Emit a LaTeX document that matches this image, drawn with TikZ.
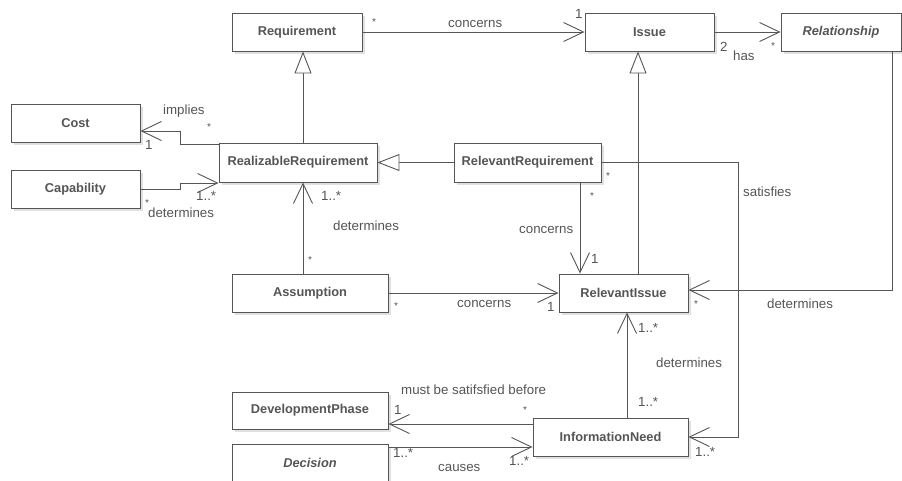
\documentclass[tikz,border=0pt]{standalone}
\usepackage{fontspec}
\setmainfont{Liberation Sans}
\usetikzlibrary{arrows.meta,shadows}
\definecolor{ln}{HTML}{555555}
\definecolor{tx}{HTML}{555555}
\begin{document}
\begin{tikzpicture}[x=1pt,y=-1pt,
  cls/.style={draw=ln, line width=0.9pt, fill=white, minimum height=38pt, inner sep=0pt,
    font=\fontsize{12.8}{14}\selectfont\bfseries, text=tx,
    drop shadow={shadow xshift=2.5pt, shadow yshift=-2.5pt, fill=black!12, opacity=1}},
  abs/.style={cls, font=\fontsize{12.8}{14}\selectfont\bfseries\itshape},
  lbl/.style={anchor=base west, inner sep=0pt, text=tx, font=\fontsize{13.3}{15}\selectfont},
  star/.style={lbl, font=\fontsize{10}{12}\selectfont},
  assoc/.style={draw=ln, line width=0.9pt, -{Straight Barb[length=20pt,width=19pt]}},
  gen/.style={draw=ln, line width=0.9pt, -{Triangle[open,length=22pt,width=17pt,fill=white]}}
]
\useasboundingbox (0,0) rectangle (902,480);

% classes
\node[cls, minimum width=130pt] (req) at (297,32) {Requirement};
\node[cls, minimum width=129pt] (iss) at (649.5,32) {Issue};
\node[abs, minimum width=120pt] (rel) at (841,32) {Relationship};
\node[cls, minimum width=129pt] (cost) at (75.5,123) {Cost};
\node[cls, minimum width=129pt] (cap) at (75.5,189) {Capability};
\node[cls, minimum width=158pt, minimum height=39pt] (rr) at (298,162.5) {RealizableRequirement};
\node[cls, minimum width=147pt, minimum height=39pt] (relreq) at (527.5,162.5) {RelevantRequirement};
\node[cls, minimum width=156pt] (as) at (310,293) {Assumption};
\node[cls, minimum width=129pt] (ri) at (623.5,293) {RelevantIssue};
\node[cls, minimum width=156pt, minimum height=37pt] (dp) at (310,410.5) {DevelopmentPhase};
\node[abs, minimum width=156pt] (dec) at (310,463) {Decision};
\node[cls, minimum width=155pt] (in) at (610.5,437) {InformationNeed};

% helper coordinates
\coordinate (relc) at (892,290);
\coordinate (g1) at (303,0);
\coordinate (g2) at (638,0);
\coordinate (g3) at (580,0);
\coordinate (g4) at (627,0);
\coordinate (sb) at (738,0);
\coordinate (cb) at (180,144);
\coordinate (ca) at (0,131);
\coordinate (db) at (180,183);
\coordinate (h1) at (0,424);
\coordinate (h2) at (0,447);

% connectors
\draw[assoc] (req) -- (iss);
\draw[assoc] (iss) -- (rel);
\draw[assoc] (rel.south -| relc) -- (relc) -- (relc -| ri.east);
\draw[gen] (rr.north -| g1) -- (req.south -| g1);
\draw[gen] (ri.north -| g2) -- (iss.south -| g2);
\draw[gen] (relreq.west) -- (rr.east);
\draw[assoc] (rr.west |- cb) -- (cb) |- (cost.east |- ca);
\draw[assoc] (cap.east) -| (db) -- (db -| rr.west);
\draw[assoc] (as.north -| g1) -- (rr.south -| g1);
\draw[assoc] (as.east) -- (as.east -| ri.west);
\draw[assoc] (relreq.south -| g3) -- (ri.north -| g3);
\draw[assoc] (relreq.east) -| (sb |- in.east) -- (in.east);
\draw[assoc] (in.north -| g4) -- (ri.south -| g4);
\draw[assoc] (in.west |- h1) -- (dp.east |- h1);
\draw[assoc] (dec.east |- h2) -- (in.west |- h2);

% labels
\node[star] (l1) at (372,25) {*};
\node[lbl] (l2) at (448,27) {concerns};
\node[lbl] (l3) at (575,18) {1};
\node[lbl] (l4) at (720,51) {2};
\node[lbl] (l5) at (733,60) {has};
\node[star] (l6) at (771,49) {*};
\node[lbl] (l7) at (163,114) {implies};
\node[star] (l8) at (207,130) {*};
\node[lbl] (l9) at (145,149) {1};
\node[star] (l10) at (145,206) {*};
\node[lbl] (l11) at (148,217) {determines};
\node[lbl] (l12) at (196,200) {1..*};
\node[lbl] (l13) at (321,200) {1..*};
\node[lbl] (l14) at (333,230) {determines};
\node[star] (l15) at (308,263) {*};
\node[star] (l16) at (394,309) {*};
\node[lbl] (l17) at (457,307) {concerns};
\node[lbl] (l18) at (547,311) {1};
\node[star] (l19) at (590,199) {*};
\node[star] (l20) at (606,179) {*};
\node[lbl] (l21) at (743,196) {satisfies};
\node[lbl] (l22) at (519,233) {concerns};
\node[lbl] (l23) at (591,263) {1};
\node[star] (l24) at (694,307) {*};
\node[lbl] (l25) at (767,308) {determines};
\node[lbl] (l26) at (638,332) {1..*};
\node[lbl] (l27) at (656,367) {determines};
\node[lbl] (l28) at (638,406) {1..*};
\node[lbl] (l29) at (695,456) {1..*};
\node[lbl] (l30) at (401,394) {must be satifsfied before};
\node[lbl] (l31) at (394,414) {1};
\node[star] (l32) at (523,413) {*};
\node[lbl] (l33) at (393,457) {1..*};
\node[lbl] (l34) at (438,471) {causes};
\node[lbl] (l35) at (509,465) {1..*};
\end{tikzpicture}
\end{document}
